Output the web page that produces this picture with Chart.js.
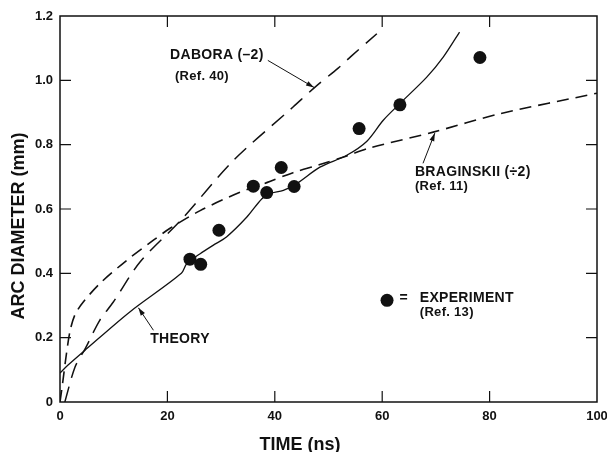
<!DOCTYPE html>
<html>
<head>
<meta charset="utf-8">
<script src="https://cdn.jsdelivr.net/npm/chart.js@4.4.1/dist/chart.umd.min.js"></script>
<style>
  html, body { margin: 0; padding: 0; background: #fff; }
  #wrap { width: 607px; height: 452px; }
</style>
</head>
<body>
<div id="wrap"><canvas id="arcChart" width="607" height="452"></canvas></div>
<script>
// values (time in ns, diameter in mm)
const experimentTime = [24.2, 26.2, 29.6, 36.0, 38.5, 41.2, 43.6, 55.7, 63.3, 78.2];
const experimentDiameter = [0.444, 0.428, 0.534, 0.671, 0.651, 0.729, 0.670, 0.850, 0.924, 1.071];

const theoryTime = [0, 1.5, 5, 13, 22.6, 23.6, 26.1, 28.5, 31, 34.8, 37.6, 39.1, 41.6, 44.1, 48.4, 53.4, 57.1, 60.2, 63.3, 68.3, 71.4, 74.4];
const theoryDiameter = [0.09, 0.115, 0.166, 0.28, 0.40, 0.43, 0.461, 0.487, 0.513, 0.575, 0.632, 0.648, 0.658, 0.679, 0.73, 0.767, 0.81, 0.876, 0.928, 1.01, 1.073, 1.15];

const daboraTime = [0.9, 2.8, 4.7, 7.4, 9.9, 14.9, 22.5, 32.3, 43.4, 47.5, 51.8, 54.3, 59];
const daboraDiameter = [0, 0.109, 0.166, 0.254, 0.31, 0.435, 0.565, 0.751, 0.917, 0.979, 1.038, 1.076, 1.145];

const braginskiiTime = [0, 0.5, 1.2, 1.9, 2.8, 4.3, 7.4, 12.4, 17.4, 20.5, 26.1, 33.5, 38.5, 43.4, 48.4, 53.4, 57.7, 69.5, 81.9, 100];
const braginskiiDiameter = [0, 0.06, 0.15, 0.223, 0.272, 0.31, 0.368, 0.44, 0.503, 0.54, 0.595, 0.652, 0.682, 0.713, 0.738, 0.765, 0.79, 0.839, 0.896, 0.96];

const xTicks = [0, 20, 40, 60, 80, 100];
const yTicks = [0, 0.2, 0.4, 0.6, 0.8, 1.0, 1.2];

const FONT = '"Liberation Sans", Arial, Helvetica, sans-serif';

// labels and arrows, placed in data units
const notes = [
  { text: "DABORA (–2)", x: 20.5, y: 1.078, size: 14 },
  { text: "(Ref. 40)", x: 21.4, y: 1.013, size: 13 },
  { text: "BRAGINSKII (÷2)", x: 66.1, y: 0.714, size: 14 },
  { text: "(Ref. 11)", x: 66.1, y: 0.671, size: 13 },
  { text: "THEORY", x: 16.8, y: 0.195, size: 14 },
  { text: "=", x: 63.2, y: 0.322, size: 14 },
  { text: "EXPERIMENT", x: 67.0, y: 0.323, size: 14 },
  { text: "(Ref. 13)", x: 67.0, y: 0.280, size: 13 }
];
const arrows = [
  { from: [38.7, 1.062], to: [47.3, 0.978] },
  { from: [67.6, 0.742], to: [69.8, 0.836] },
  { from: [17.4, 0.223], to: [14.6, 0.293] }
];
const legendDot = { x: 60.9, y: 0.316 };

const zip = (xs, ys) => xs.map((x, i) => ({ x, y: ys[i] }));

function lineSet(label, xs, ys, dash, width) {
  return {
    label,
    data: zip(xs, ys),
    showLine: true,
    borderColor: "#111",
    borderWidth: width,
    borderDash: dash,
    pointRadius: 0,
    tension: 0.3,
    fill: false
  };
}

const frameAndNotes = {
  id: "frameAndNotes",
  afterDraw(chart) {
    const { ctx, chartArea: a, scales: { x, y } } = chart;
    ctx.save();
    ctx.strokeStyle = "#111";
    ctx.lineWidth = 1.5;
    ctx.strokeRect(a.left, a.top, a.right - a.left, a.bottom - a.top);

    // inward ticks on all four sides
    ctx.lineWidth = 1.2;
    const len = 11;
    ctx.beginPath();
    xTicks.slice(1, -1).forEach((v) => {
      const px = x.getPixelForValue(v);
      ctx.moveTo(px, a.bottom); ctx.lineTo(px, a.bottom - len);
      ctx.moveTo(px, a.top); ctx.lineTo(px, a.top + len);
    });
    yTicks.slice(1, -1).forEach((v) => {
      const py = y.getPixelForValue(v);
      ctx.moveTo(a.left, py); ctx.lineTo(a.left + len, py);
      ctx.moveTo(a.right, py); ctx.lineTo(a.right - len, py);
    });
    ctx.stroke();

    // arrows
    ctx.lineWidth = 1;
    ctx.fillStyle = "#111";
    arrows.forEach(({ from, to }) => {
      const x0 = x.getPixelForValue(from[0]), y0 = y.getPixelForValue(from[1]);
      const x1 = x.getPixelForValue(to[0]), y1 = y.getPixelForValue(to[1]);
      const ang = Math.atan2(y1 - y0, x1 - x0);
      ctx.beginPath();
      ctx.moveTo(x0, y0); ctx.lineTo(x1, y1);
      ctx.stroke();
      ctx.beginPath();
      ctx.moveTo(x1, y1);
      ctx.lineTo(x1 - 8 * Math.cos(ang) + 2.5 * Math.sin(ang), y1 - 8 * Math.sin(ang) - 2.5 * Math.cos(ang));
      ctx.lineTo(x1 - 8 * Math.cos(ang) - 2.5 * Math.sin(ang), y1 - 8 * Math.sin(ang) + 2.5 * Math.cos(ang));
      ctx.closePath();
      ctx.fill();
    });

    // legend marker
    ctx.beginPath();
    ctx.arc(x.getPixelForValue(legendDot.x), y.getPixelForValue(legendDot.y), 6.5, 0, Math.PI * 2);
    ctx.fill();

    ctx.letterSpacing = "0.3px";
    ctx.textAlign = "left";
    ctx.textBaseline = "middle";
    notes.forEach((n) => {
      ctx.font = `bold ${n.size}px ${FONT}`;
      ctx.fillText(n.text, x.getPixelForValue(n.x), y.getPixelForValue(n.y));
    });

    // axis titles, set off-centre as in the original figure
    ctx.letterSpacing = "0px";
    ctx.font = `bold 18px ${FONT}`;
    ctx.textAlign = "center";
    ctx.fillText("TIME (ns)", 300, 445);
    ctx.translate(19, 226);
    ctx.rotate(-Math.PI / 2);
    ctx.fillText("ARC DIAMETER (mm)", 0, 0);
    ctx.restore();
  }
};

new Chart(document.getElementById("arcChart"), {
  type: "scatter",
  data: {
    datasets: [
      {
        label: "EXPERIMENT",
        data: zip(experimentTime, experimentDiameter),
        pointRadius: 6.5,
        pointHoverRadius: 6.5,
        pointBackgroundColor: "#111",
        pointBorderWidth: 0,
        showLine: false
      },
      lineSet("THEORY", theoryTime, theoryDiameter, [], 1.3),
      lineSet("DABORA", daboraTime, daboraDiameter, [16, 9], 1.5),
      lineSet("BRAGINSKII", braginskiiTime, braginskiiDiameter, [12, 7], 1.6)
    ]
  },
  plugins: [frameAndNotes],
  options: {
    responsive: false,
    animation: false,
    devicePixelRatio: 1,
    layout: { padding: { left: 0, right: 10, top: 16, bottom: 0 } },
    plugins: { legend: { display: false }, tooltip: { enabled: false } },
    scales: {
      x: {
        type: "linear",
        min: 0,
        max: 100,
        afterBuildTicks: (s) => { s.ticks = xTicks.map((value) => ({ value })); },
        afterFit: (s) => { s.height = 50; s.paddingLeft = 0; s.paddingRight = 0; },
        grid: { display: false, drawTicks: false },
        border: { display: false },
        ticks: { color: "#111", padding: 7, font: { family: FONT, size: 13, weight: "bold" } }
      },
      y: {
        type: "linear",
        min: 0,
        max: 1.2,
        afterBuildTicks: (s) => { s.ticks = yTicks.map((value) => ({ value })); },
        afterFit: (s) => { s.width = 60; s.paddingTop = 0; s.paddingBottom = 0; },
        grid: { display: false, drawTicks: false },
        border: { display: false },
        ticks: {
          color: "#111",
          padding: 7,
          font: { family: FONT, size: 13, weight: "bold" },
          callback: (v) => (v === 0 ? "0" : v.toFixed(1))
        }
      }
    }
  }
});
</script>
</body>
</html>
